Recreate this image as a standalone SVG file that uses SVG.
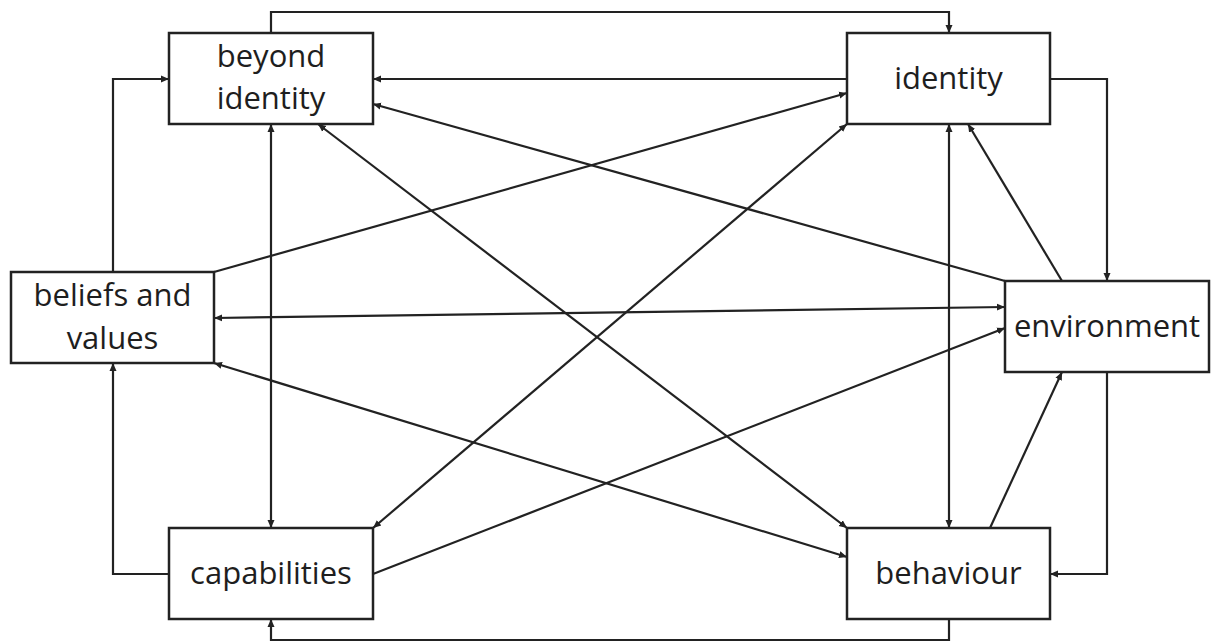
<svg xmlns="http://www.w3.org/2000/svg" width="1217" height="643" viewBox="0 0 1217 643">
<style>
.box{fill:#fff;stroke:#222;stroke-width:2.5}
.lbl{font-family:"Open Sans","Noto Sans",sans-serif;font-size:31px;fill:#1e1e1e;text-anchor:middle}
.c{fill:none;stroke:#222;stroke-width:2.2}
</style>
<defs>
<marker id="ah" markerUnits="userSpaceOnUse" markerWidth="10" markerHeight="10" viewBox="0 0 10 10" refX="8" refY="5" orient="auto-start-reverse">
<path d="M0,1.5 L8,5 L0,8.5 Z" fill="#222"/>
</marker>
</defs>
<rect width="1217" height="643" fill="#fff"/>
<g id="connectors">
<path class="c" d="M271,33 V12 H949 V33" marker-end="url(#ah)"/>
<path class="c" d="M847,79 H373" marker-end="url(#ah)"/>
<path class="c" d="M113,272 V79 H169" marker-end="url(#ah)"/>
<path class="c" d="M169,574 H113 V363" marker-end="url(#ah)"/>
<path class="c" d="M949,619 V640 H271 V619" marker-end="url(#ah)"/>
<path class="c" d="M1050,79 H1107 V281" marker-end="url(#ah)"/>
<path class="c" d="M1107,372 V574 H1050" marker-end="url(#ah)"/>
<path class="c" d="M271,124 V528" marker-start="url(#ah)" marker-end="url(#ah)"/>
<path class="c" d="M949,124 V528" marker-start="url(#ah)" marker-end="url(#ah)"/>
<path class="c" d="M214,318 L1005,307" marker-start="url(#ah)" marker-end="url(#ah)"/>
<path class="c" d="M214,272 L847,93" marker-end="url(#ah)"/>
<path class="c" d="M1005,281 L373,104" marker-end="url(#ah)"/>
<path class="c" d="M1062,281 L968,124" marker-end="url(#ah)"/>
<path class="c" d="M990,528 L1062,372" marker-end="url(#ah)"/>
<path class="c" d="M373,574 L1005,328" marker-end="url(#ah)"/>
<path class="c" d="M318,124 L847,528" marker-start="url(#ah)" marker-end="url(#ah)"/>
<path class="c" d="M847,124 L373,528" marker-start="url(#ah)" marker-end="url(#ah)"/>
<path class="c" d="M214,363 L847,557" marker-start="url(#ah)" marker-end="url(#ah)"/>
</g>
<g id="beyond-identity">
<rect class="box" x="169" y="33" width="204" height="91"/>
<text class="lbl" x="271" y="67">beyond</text>
<text class="lbl" x="271" y="109">identity</text>
</g>
<g id="identity">
<rect class="box" x="847" y="33" width="203" height="91"/>
<text class="lbl" x="948.5" y="89">identity</text>
</g>
<g id="beliefs-and-values">
<rect class="box" x="11" y="272" width="203" height="91"/>
<text class="lbl" x="112.5" y="306">beliefs and</text>
<text class="lbl" x="112.5" y="349">values</text>
</g>
<g id="environment">
<rect class="box" x="1005" y="281" width="204" height="91"/>
<text class="lbl" x="1107" y="337">environment</text>
</g>
<g id="capabilities">
<rect class="box" x="169" y="528" width="204" height="91"/>
<text class="lbl" x="271" y="584">capabilities</text>
</g>
<g id="behaviour">
<rect class="box" x="847" y="528" width="203" height="91"/>
<text class="lbl" x="948.5" y="584">behaviour</text>
</g>
</svg>
